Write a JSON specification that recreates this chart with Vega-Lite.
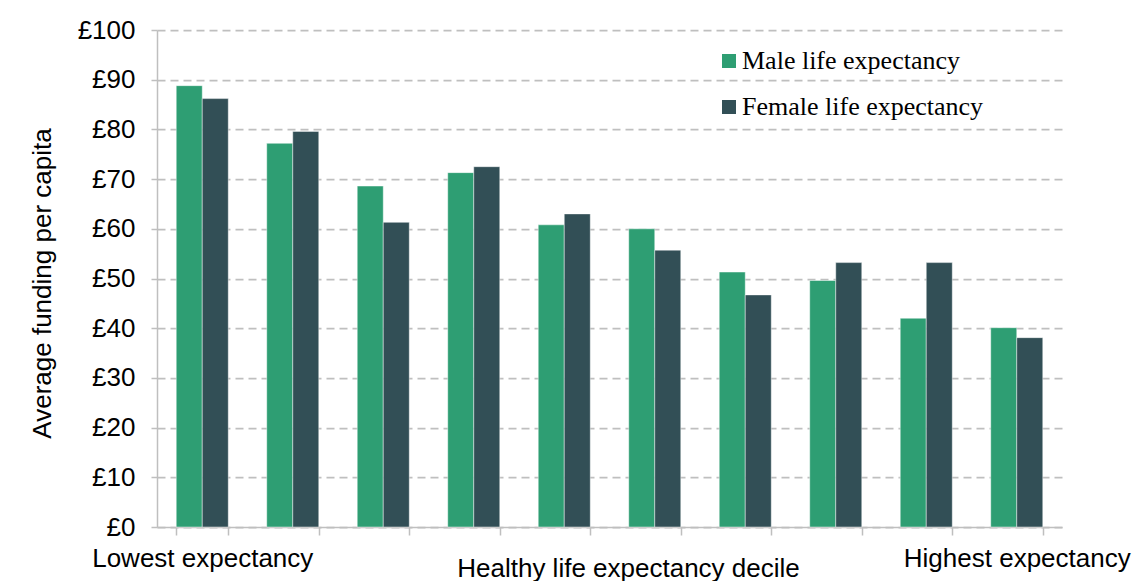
{
  "$schema": "https://vega.github.io/schema/vega-lite/v6.json",
  "autosize": {"type": "none"},
  "padding": {"left": 157, "top": 30, "right": 74, "bottom": 54},
  "width": 905,
  "height": 497,
  "background": "white",
  "config": {"view": {"stroke": null}},
  "data": {
    "values": [
      {"decile": 1, "series": "Male life expectancy", "value": 88.8},
      {"decile": 1, "series": "Female life expectancy", "value": 86.2},
      {"decile": 2, "series": "Male life expectancy", "value": 77.2},
      {"decile": 2, "series": "Female life expectancy", "value": 79.6},
      {"decile": 3, "series": "Male life expectancy", "value": 68.6},
      {"decile": 3, "series": "Female life expectancy", "value": 61.3},
      {"decile": 4, "series": "Male life expectancy", "value": 71.3},
      {"decile": 4, "series": "Female life expectancy", "value": 72.5},
      {"decile": 5, "series": "Male life expectancy", "value": 60.8},
      {"decile": 5, "series": "Female life expectancy", "value": 63.0},
      {"decile": 6, "series": "Male life expectancy", "value": 60.0},
      {"decile": 6, "series": "Female life expectancy", "value": 55.7},
      {"decile": 7, "series": "Male life expectancy", "value": 51.3},
      {"decile": 7, "series": "Female life expectancy", "value": 46.7},
      {"decile": 8, "series": "Male life expectancy", "value": 49.6},
      {"decile": 8, "series": "Female life expectancy", "value": 53.2},
      {"decile": 9, "series": "Male life expectancy", "value": 42.0},
      {"decile": 9, "series": "Female life expectancy", "value": 53.2},
      {"decile": 10, "series": "Male life expectancy", "value": 40.1},
      {"decile": 10, "series": "Female life expectancy", "value": 38.1}
    ]
  },
  "mark": {"type": "bar", "stroke": "white", "strokeWidth": 0.75, "strokeOpacity": 0.6},
  "encoding": {
    "x": {
      "field": "decile",
      "type": "ordinal",
      "scale": {"paddingInner": 0.425, "paddingOuter": 0.2125},
      "axis": {
        "title": "Healthy life expectancy decile",
        "titleFont": "Liberation Sans",
        "titleFontSize": 26,
        "titleFontWeight": "normal",
        "titleColor": "#000000",
        "titleX": 471,
        "titleY": 49,
        "titleBaseline": "alphabetic",
        "titleAlign": "center",
        "titleAnchor": null,
        "labelExpr": "datum.value == 1 ? 'Lowest expectancy' : datum.value == 10 ? 'Highest expectancy' : ''",
        "labelAngle": 0,
        "labelFont": "Liberation Sans",
        "labelFontSize": 26,
        "labelColor": "#000000",
        "labelLimit": 0,
        "labelOverlap": false,
        "labelPadding": 10,
        "labelBaseline": "top",
        "tickBand": "extent",
        "tickSize": 8,
        "tickColor": "#bfbfbf",
        "tickWidth": 1.5,
        "domainColor": "#bfbfbf",
        "domainWidth": 1.5,
        "grid": false
      }
    },
    "xOffset": {
      "field": "series",
      "type": "nominal",
      "sort": ["Male life expectancy", "Female life expectancy"],
      "scale": {"paddingInner": 0, "paddingOuter": 0}
    },
    "y": {
      "field": "value",
      "type": "quantitative",
      "scale": {"domain": [0, 100], "nice": false},
      "axis": {
        "title": "Average funding per capita",
        "titleFont": "Liberation Sans",
        "titleFontSize": 26,
        "titleFontWeight": "normal",
        "titleColor": "#000000",
        "titleX": -107,
        "titleY": 253,
        "titleBaseline": "alphabetic",
        "titleAlign": "center",
        "titleAnchor": null,
        "values": [0, 10, 20, 30, 40, 50, 60, 70, 80, 90, 100],
        "labelExpr": "'£' + datum.value",
        "labelFont": "Liberation Sans",
        "labelFontSize": 26,
        "labelColor": "#000000",
        "labelPadding": 16,
        "tickSize": 6,
        "tickColor": "#bfbfbf",
        "tickWidth": 1.5,
        "domainColor": "#bfbfbf",
        "domainWidth": 1.5,
        "grid": true,
        "gridColor": "#bfbfbf",
        "gridWidth": 1.75,
        "gridDash": [8, 5]
      }
    },
    "color": {
      "field": "series",
      "type": "nominal",
      "sort": ["Male life expectancy", "Female life expectancy"],
      "scale": {
        "domain": ["Male life expectancy", "Female life expectancy"],
        "range": ["#2e9e73", "#324f56"]
      },
      "legend": {
        "title": null,
        "orient": "none",
        "legendX": 559,
        "legendY": 18,
        "symbolType": "square",
        "symbolSize": 196,
        "symbolStrokeWidth": 0,
        "symbolOpacity": 1,
        "labelFont": "Liberation Serif",
        "labelFontSize": 26,
        "labelColor": "#000000",
        "labelLimit": 0,
        "labelOffset": 0,
        "rowPadding": 20,
        "padding": 0
      }
    }
  }
}
